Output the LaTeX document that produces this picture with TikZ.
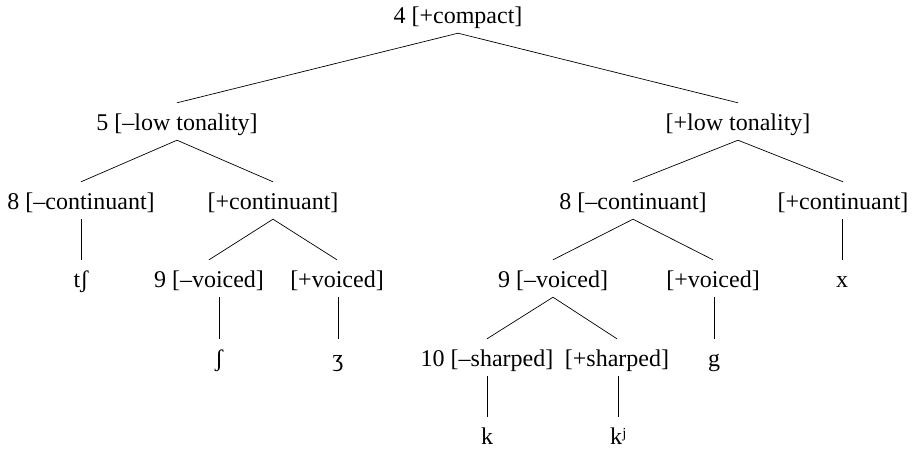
\documentclass[tikz,border=0pt]{standalone}
\usepackage{fontspec}
\setmainfont{Liberation Serif}
\begin{document}
\begin{tikzpicture}[x=1pt,y=-1pt,
  lab/.style={anchor=base,inner sep=0pt,text height=27pt,text depth=10pt,font=\fontsize{24}{28}\selectfont},
  br/.style={line width=0.7pt}]
\useasboundingbox (0,0) rectangle (913,448);
\node[lab] (root) at (458,23) {4 [+compact]};
\node[lab] (n5) at (177,130) {5 [–low tonality]};
\node[lab] (plow) at (738,130) {[+low tonality]};
\node[lab] (c8L) at (81,209) {8 [–continuant]};
\node[lab] (pcL) at (273,209) {[+continuant]};
\node[lab] (c8R) at (633,209) {8 [–continuant]};
\node[lab] (pcR) at (843,209) {[+continuant]};
\node[lab] (tsh) at (81,287) {tʃ};
\node[lab] (v9L) at (209,287) {9 [–voiced]};
\node[lab] (pvL) at (337,287) {[+voiced]};
\node[lab] (v9R) at (553,287) {9 [–voiced]};
\node[lab] (pvR) at (713,287) {[+voiced]};
\node[lab] (xl) at (842,287) {x};
\node[lab] (sh) at (219,366) {ʃ};
\node[lab] (zh) at (338,366) {ʒ};
\node[lab] (s10) at (487,366) {10 [–sharped]};
\node[lab] (ps) at (617,366) {[+sharped]};
\node[lab] (g) at (714,366) {g};
\node[lab] (k) at (487,444) {k};
\node[lab] (kj) at (618,444) {kʲ};
\draw[br] (n5.north) -- (root.south) -- (plow.north);
\draw[br] (c8L.north) -- (n5.south) -- (pcL.north);
\draw[br] (tsh.north |- c8L.south) -- (tsh.north);
\draw[br] (v9L.north) -- (pcL.south) -- (pvL.north);
\draw[br] (sh.north |- v9L.south) -- (sh.north);
\draw[br] (zh.north |- pvL.south) -- (zh.north);
\draw[br] (c8R.north) -- (plow.south) -- (pcR.north);
\draw[br] (xl.north |- pcR.south) -- (xl.north);
\draw[br] (s10.north) -- (v9R.south) -- (ps.north);
\draw[br] (v9R.north) -- (c8R.south) -- (pvR.north);
\draw[br] (g.north |- pvR.south) -- (g.north);
\draw[br] (k.north |- s10.south) -- (k.north);
\draw[br] (kj.north |- ps.south) -- (kj.north);
\end{tikzpicture}
\end{document}
